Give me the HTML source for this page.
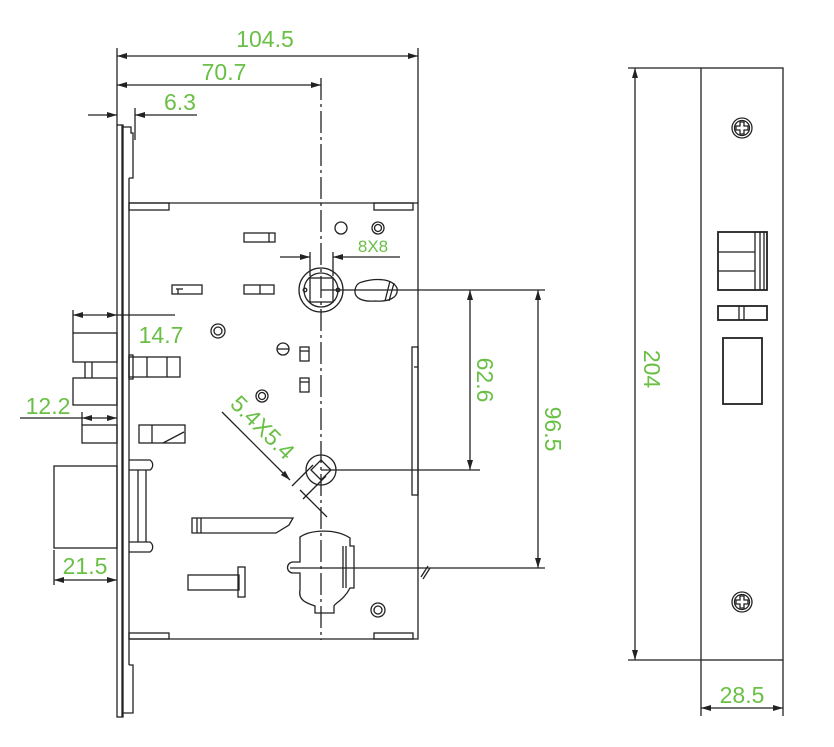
<!DOCTYPE html>
<html><head><meta charset="utf-8"><style>
html,body{margin:0;padding:0;background:#fff}
svg{display:block}
text{font-family:"Liberation Sans",sans-serif;fill:#6abf45}
</style></head><body>
<svg width="834" height="747" viewBox="0 0 834 747" xmlns="http://www.w3.org/2000/svg">
<defs>
<marker id="a" viewBox="0 0 10 6" refX="10" refY="3" markerWidth="10" markerHeight="6" orient="auto-start-reverse" markerUnits="userSpaceOnUse"><path d="M0,0 L10,3 L0,6z" fill="#222"/></marker>
</defs>
<g stroke="#222" stroke-width="1.3" fill="none">
<!-- top dimensions -->
<line x1="117" y1="56" x2="418" y2="56" marker-start="url(#a)" marker-end="url(#a)"/>
<line x1="117" y1="85" x2="321" y2="85" marker-start="url(#a)" marker-end="url(#a)"/>
<line x1="88" y1="115" x2="117" y2="115" marker-end="url(#a)"/>
<line x1="135" y1="115" x2="197" y2="115" marker-start="url(#a)"/>
<line x1="117" y1="48" x2="117" y2="125"/>
<line x1="418" y1="48" x2="418" y2="203"/>
<line x1="135" y1="108" x2="135" y2="140"/>
<line x1="321" y1="78" x2="321" y2="640" stroke-dasharray="22,4,3,4"/>
<!-- faceplate -->
<rect x="117" y="125" width="6" height="592"/>
<line x1="122" y1="125" x2="122" y2="717"/>
<line x1="129" y1="178" x2="129" y2="665"/>
<path d="M123,127 H131 V133 H133 V178 H129"/>
<path d="M129,665 H133 V713 H123"/>
<!-- body -->
<path d="M129,203 H418 V639 H129"/>
<rect x="129" y="203" width="40" height="7"/>
<rect x="374" y="203" width="39" height="7"/>
<rect x="129" y="633" width="40" height="6"/>
<rect x="374" y="633" width="39" height="6"/>
<circle cx="341" cy="228" r="6"/>
<circle cx="378" cy="228" r="6"/><circle cx="378" cy="228" r="3.5"/>
<rect x="244" y="233" width="31" height="9"/><line x1="269" y1="233" x2="269" y2="242"/>
<rect x="172" y="285" width="30" height="9"/><line x1="176" y1="289" x2="183" y2="289"/><line x1="178" y1="289" x2="178" y2="294"/>
<rect x="244" y="285" width="30" height="9"/><line x1="260" y1="285" x2="260" y2="294"/>
<circle cx="321" cy="290" r="22"/><circle cx="321" cy="290" r="17"/>
<rect x="310" y="278" width="23" height="24"/>
<circle cx="305" cy="290" r="1.8"/><circle cx="338" cy="290" r="1.8"/>
<path d="M362,282 C375,278 392,278 397,288 C399,298 388,302 375,301 C362,302 354,298 355,290 C356,285 358,283 362,282 Z"/>
<path d="M390,281 L385,301 M394,283 L389,301"/>
<!-- 8x8 -->
<line x1="280" y1="257" x2="310" y2="257" marker-end="url(#a)"/>
<line x1="333" y1="257" x2="400" y2="257" marker-start="url(#a)"/>
<line x1="310" y1="252" x2="310" y2="276"/><line x1="333" y1="252" x2="333" y2="276"/>
<!-- right leaders -->
<line x1="321" y1="290" x2="545" y2="290"/>
<line x1="321" y1="470" x2="480" y2="470"/>
<line x1="290" y1="568" x2="545" y2="568"/>
<line x1="470" y1="290" x2="470" y2="470" marker-start="url(#a)" marker-end="url(#a)"/>
<line x1="538" y1="290" x2="538" y2="568" marker-start="url(#a)" marker-end="url(#a)"/>
<!-- 14.7 -->
<line x1="73" y1="315" x2="117" y2="315" marker-start="url(#a)" marker-end="url(#a)"/>
<line x1="117" y1="315" x2="175" y2="315"/>
<line x1="73" y1="310" x2="73" y2="333"/>
<rect x="73" y="333" width="44" height="29"/>
<rect x="73" y="378" width="44" height="27"/>
<path d="M85,362 V378 M92,362 V378"/>
<rect x="129" y="357" width="51" height="20"/><path d="M147,357 V377 M167,357 V377"/>
<rect x="129" y="355" width="4" height="24"/>
<circle cx="218" cy="331" r="7"/><circle cx="218" cy="331" r="4"/>
<circle cx="283" cy="349" r="6"/><line x1="277" y1="349" x2="289" y2="349"/>
<rect x="300" y="347" width="9" height="14"/><line x1="300" y1="351" x2="309" y2="351"/>
<rect x="300" y="378" width="9" height="14"/><line x1="300" y1="382" x2="309" y2="382"/>
<circle cx="262" cy="396" r="6"/><circle cx="262" cy="396" r="3.5"/>
<rect x="412" y="347" width="6" height="148"/><line x1="414" y1="367" x2="418" y2="367"/>
<!-- 12.2 -->
<line x1="20" y1="418" x2="82" y2="418"/>
<line x1="82" y1="418" x2="117" y2="418" marker-start="url(#a)" marker-end="url(#a)"/>
<line x1="82" y1="412" x2="82" y2="425"/>
<rect x="82" y="425" width="35" height="18"/>
<rect x="139" y="425" width="46" height="18"/><line x1="152" y1="425" x2="152" y2="443"/><line x1="163" y1="443" x2="184" y2="432"/>
<rect x="54" y="466" width="63" height="82"/>
<path d="M129,460 H150 A6,6 0 0 1 150,470 H129 M129,542 H150 A6,6 0 0 1 150,552 H129"/>
<path d="M138,470 V542 M146,470 V542"/>
<!-- 21.5 -->
<line x1="54" y1="580" x2="117" y2="580" marker-start="url(#a)" marker-end="url(#a)"/>
<line x1="54" y1="550" x2="54" y2="585"/>
<!-- 5.4 -->
<circle cx="321" cy="470" r="15"/>
<path d="M321,460 L331,470 L321,480 L311,470 Z"/>
<line x1="222" y1="412" x2="290" y2="480" marker-end="url(#a)"/>
<line x1="300" y1="490" x2="327" y2="517"/>
<path d="M292,486 L313,465 M303,499 L326,476"/>
<!-- lower parts -->
<path d="M192,518 H293 L289,525 L276,533 H192 Z M197,518 V533 M201,518 V533"/>
<rect x="188" y="575" width="51" height="15"/>
<rect x="238" y="567" width="7" height="30"/>
<path d="M300,537 C310,530 335,528 350,538 V546 H354 V588 H350 C344,600 335,603 334,606 V613 H315 V606 C306,603 298,600 300,590 V573 H293 A5,5 0 0 1 293,562 H300 Z"/>
<path d="M343,546 V588 M346,546 V588"/>
<circle cx="378" cy="610" r="7"/><circle cx="378" cy="610" r="4"/>
<path d="M421,577 L428,566 M423,579 L430,568"/>
<!-- right view -->
<rect x="701" y="68" width="82" height="592"/>
<line x1="628" y1="68" x2="701" y2="68"/>
<line x1="628" y1="660" x2="701" y2="660"/>
<line x1="635" y1="68" x2="635" y2="660" marker-start="url(#a)" marker-end="url(#a)"/>
<line x1="701" y1="660" x2="701" y2="716"/>
<line x1="783" y1="660" x2="783" y2="716"/>
<line x1="701" y1="708" x2="783" y2="708" marker-start="url(#a)" marker-end="url(#a)"/>
<circle cx="742" cy="128" r="10"/><circle cx="742" cy="128" r="7.5"/>
<path d="M740,122 H744 V126 H748 V130 H744 V134 H740 V130 H736 V126 H740 Z"/>
<circle cx="742" cy="602" r="10"/><circle cx="742" cy="602" r="7.5"/>
<path d="M740,596 H744 V600 H748 V604 H744 V608 H740 V604 H736 V600 H740 Z"/>
<rect x="718" y="232" width="49" height="58" stroke-width="1.8"/>
<path d="M718,252 H755 M718,271 H755 M755,232 V290 M760,232 V290 M764,232 V290"/>
<rect x="718" y="306" width="49" height="14" stroke-width="1.8"/>
<path d="M739,306 V320 M744,306 V320"/>
<rect x="723" y="338" width="39" height="66" stroke-width="1.8"/>
</g>
<g font-size="23">
<text x="265" y="47" text-anchor="middle">104.5</text>
<text x="224" y="80" text-anchor="middle">70.7</text>
<text x="180" y="110" text-anchor="middle">6.3</text>
<text x="161" y="343" text-anchor="middle">14.7</text>
<text x="48" y="414" text-anchor="middle">12.2</text>
<text x="85" y="574" text-anchor="middle">21.5</text>
<text x="742" y="703" text-anchor="middle">28.5</text>
<text transform="translate(477,380) rotate(90)" text-anchor="middle">62.6</text>
<text transform="translate(545,429) rotate(90)" text-anchor="middle">96.5</text>
<text transform="translate(644,369) rotate(90)" text-anchor="middle">204</text>
<text transform="translate(257,433) rotate(45)" text-anchor="middle">5.4X5.4</text>
</g>
<text x="373" y="252" font-size="17" text-anchor="middle">8X8</text>
</svg>
</body></html>
